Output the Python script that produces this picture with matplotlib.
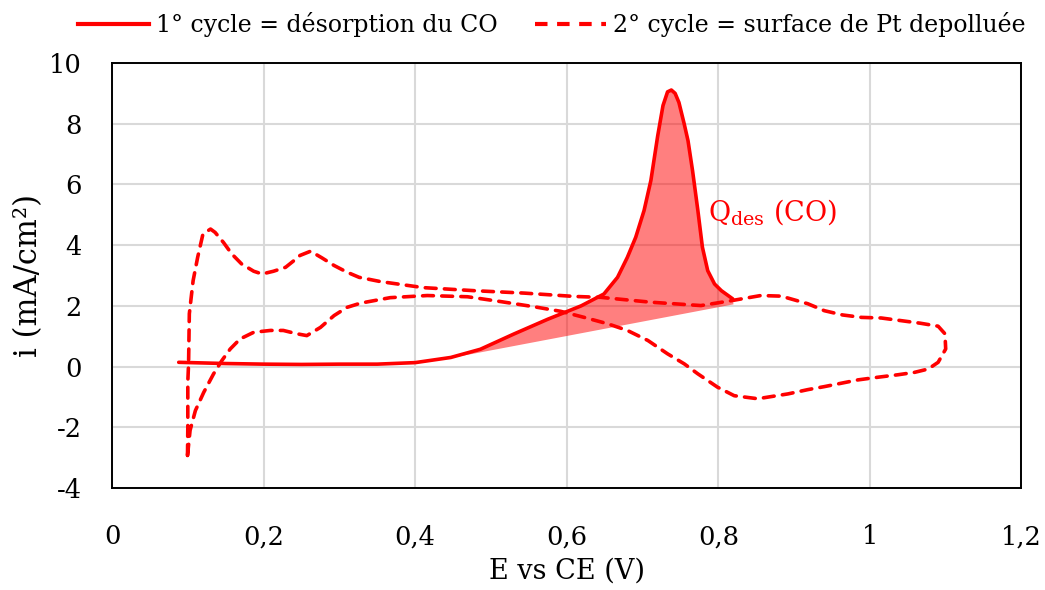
import matplotlib
matplotlib.use("Agg")
import matplotlib.pyplot as plt
from matplotlib.lines import Line2D

plt.rcParams["font.family"] = ["DejaVu Serif"]

RED = "#FF0000"

# ── 1st cycle: CO desorption (solid) ─────────────────────────────────────────
cycle1_E = [0.088, 0.15, 0.20, 0.25, 0.30, 0.35, 0.40, 0.447, 0.486, 0.530,
            0.575, 0.619, 0.649, 0.667, 0.680, 0.691, 0.702, 0.711, 0.720,
            0.727, 0.733, 0.738, 0.743, 0.748, 0.755, 0.760, 0.766, 0.773,
            0.779, 0.786, 0.795, 0.804, 0.819]
cycle1_i = [0.14, 0.10, 0.08, 0.07, 0.08, 0.08, 0.13, 0.30, 0.57, 1.07,
            1.56, 2.00, 2.39, 2.94, 3.60, 4.26, 5.14, 6.13, 7.60,
            8.60, 9.05, 9.11, 9.00, 8.70, 7.99, 7.44, 6.45, 5.14,
            3.93, 3.16, 2.72, 2.50, 2.23]

# ── 2nd cycle: clean Pt surface (dashed, closed loop) ────────────────────────
cycle2_E = [0.0996, 0.100, 0.100, 0.101, 0.102, 0.107, 0.113, 0.120, 0.130,
            0.136, 0.147, 0.158, 0.171, 0.187, 0.198, 0.213, 0.229, 0.240,
            0.248, 0.262, 0.277, 0.293, 0.310, 0.326, 0.354, 0.411, 0.478,
            0.544, 0.610, 0.645, 0.711, 0.777, 0.817, 0.856, 0.883, 0.918,
            0.940, 0.964, 0.989, 1.015, 1.039, 1.066, 1.090, 1.099, 1.100,
            1.090, 1.077, 1.059, 1.037, 1.011, 0.984, 0.958, 0.940, 0.918,
            0.892, 0.852, 0.821, 0.799, 0.773, 0.755, 0.733, 0.707, 0.680,
            0.654, 0.623, 0.592, 0.557, 0.513, 0.469, 0.416, 0.367, 0.328,
            0.310, 0.293, 0.275, 0.257, 0.244, 0.226, 0.209, 0.187, 0.169,
            0.156, 0.145, 0.134, 0.121, 0.110, 0.103, 0.0996]
cycle2_i = [-2.93, -2.00, -0.50, 0.09, 1.74, 2.83, 3.60, 4.37, 4.53,
            4.42, 4.09, 3.71, 3.38, 3.14, 3.05, 3.14, 3.27, 3.49,
            3.66, 3.80, 3.58, 3.33, 3.11, 2.94, 2.80, 2.60, 2.50,
            2.42, 2.31, 2.28, 2.12, 2.01, 2.17, 2.34, 2.32, 2.07,
            1.84, 1.70, 1.62, 1.60, 1.52, 1.43, 1.33, 1.08, 0.58,
            0.14, -0.08, -0.19, -0.27, -0.35, -0.44, -0.57, -0.66, -0.76,
            -0.90, -1.06, -0.96, -0.68, -0.24, 0.09, 0.42, 0.86, 1.19,
            1.41, 1.62, 1.82, 1.97, 2.14, 2.30, 2.34, 2.27, 2.09,
            1.95, 1.68, 1.29, 1.02, 1.08, 1.19, 1.19, 1.13, 0.91,
            0.58, 0.20, -0.24, -0.85, -1.45, -2.10, -2.93]

# baseline end points of the Q_des integration area
base_start = (0.455, 0.32)
base_end = (0.820, 2.05)

xticks = [0, 0.2, 0.4, 0.6, 0.8, 1.0, 1.2]
xtick_labels = ["0", "0,2", "0,4", "0,6", "0,8", "1", "1,2"]
yticks = [-4, -2, 0, 2, 4, 6, 8, 10]
ytick_labels = ["-4", "-2", "0", "2", "4", "6", "8", "10"]

fig = plt.figure(figsize=(10.45, 5.9), dpi=100)
ax = fig.add_axes([0.1072, 0.1729, 0.8703, 0.7203])

# shaded CO desorption charge
fill_E = [e for e in cycle1_E if base_start[0] <= e <= base_end[0]]
fill_i = [i for e, i in zip(cycle1_E, cycle1_i) if base_start[0] <= e <= base_end[0]]
ax.fill([base_start[0]] + fill_E + [base_end[0]],
        [base_start[1]] + fill_i + [base_end[1]],
        color=RED, alpha=0.5, linewidth=0, zorder=2)

ax.plot(cycle1_E, cycle1_i, color=RED, linewidth=2.6, zorder=3,
        solid_capstyle="round", solid_joinstyle="round")
ax.plot(cycle2_E, cycle2_i, color=RED, linewidth=2.6, zorder=3,
        linestyle=(0, (3.0, 2.3)), dash_capstyle="round", dash_joinstyle="round")

ax.text(0.787, 5.1, r"Q$_{\mathregular{des}}$ (CO)", color=RED, fontsize=19.5,
        ha="left", va="center")

ax.set_xlim(0, 1.2)
ax.set_ylim(-4, 10)
ax.set_xticks(xticks)
ax.set_xticklabels(xtick_labels)
ax.set_yticks(yticks)
ax.set_yticklabels(ytick_labels)
ax.tick_params(length=0, labelsize=18.5)
ax.tick_params(axis="y", pad=22)
ax.tick_params(axis="x", pad=26)
ax.grid(True, color="#D9D9D9", linewidth=1.5, zorder=0)
ax.set_axisbelow(True)
for s in ax.spines.values():
    s.set_linewidth(1.4)
    s.set_color("black")

ax.set_xlabel("E vs CE (V)", fontsize=19.5, labelpad=6)
ax.set_ylabel("i (mA/cm²)", fontsize=22, labelpad=3)

handles = [Line2D([], [], color=RED, linewidth=3.0),
           Line2D([], [], color=RED, linewidth=3.0, linestyle=(0, (3.0, 2.3)))]
fig.legend(handles, ["1° cycle = désorption du CO", "2° cycle = surface de Pt depolluée"],
           loc="upper center", bbox_to_anchor=(0.528, 1.015), ncol=2, frameon=False,
           fontsize=17, handlelength=3.0, columnspacing=1.6, handletextpad=0.3)

fig.savefig("out.png", dpi=100)
